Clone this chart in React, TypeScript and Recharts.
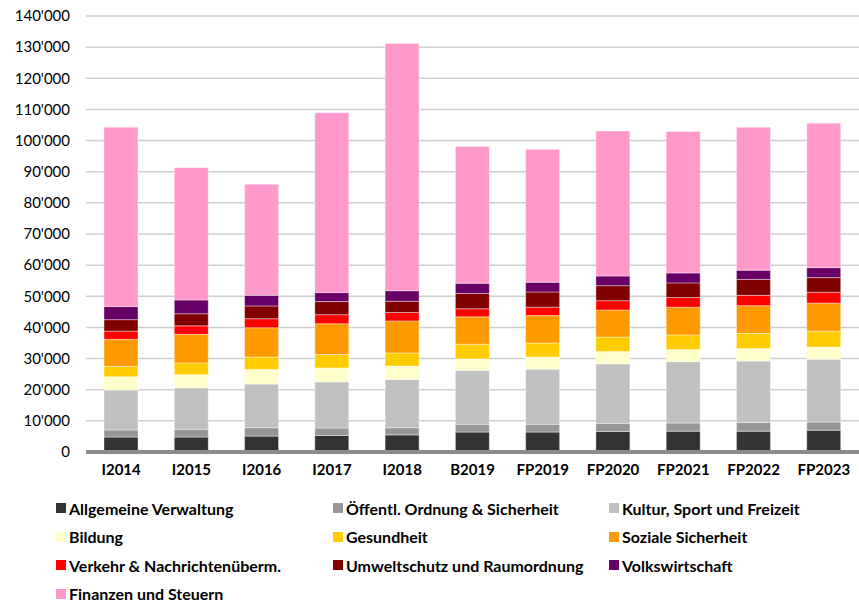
import React from 'react';
import { BarChart, Bar, XAxis, YAxis, CartesianGrid } from 'recharts';

const years = ['I2014', 'I2015', 'I2016', 'I2017', 'I2018', 'B2019', 'FP2019', 'FP2020', 'FP2021', 'FP2022', 'FP2023'];

const verwaltung = [4800, 4800, 5100, 5300, 5500, 6400, 6400, 6600, 6700, 6700, 7000];
const ordnung = [2300, 2500, 2700, 2400, 2300, 2500, 2500, 2600, 2600, 2800, 2600];
const kultur = [12800, 13300, 14000, 14800, 15500, 17300, 17700, 19100, 19700, 19700, 20200];
const bildung = [4300, 4200, 4700, 4500, 4300, 3700, 3900, 4000, 3900, 4000, 3900];
const gesundheit = [3300, 3800, 4000, 4300, 4200, 4700, 4500, 4600, 4700, 4900, 5100];
const sozial = [8700, 9200, 9400, 9900, 10300, 8800, 8800, 8700, 8900, 8900, 9000];
const verkehr = [2600, 2700, 2900, 2900, 2700, 2600, 2700, 3000, 3100, 3300, 3500];
const umwelt = [3700, 3900, 4100, 4200, 3600, 4900, 4900, 4800, 4700, 5100, 4700];
const volkswirtschaft = [4200, 4400, 3400, 2900, 3400, 3300, 3100, 3100, 3200, 3000, 3200];
const finanzen = [57600, 42500, 35700, 57700, 79400, 43900, 42700, 46600, 45400, 45900, 46400];

const yTicks = [0, 10000, 20000, 30000, 40000, 50000, 60000, 70000, 80000, 90000, 100000, 110000, 120000, 130000, 140000];

const series = [
  { key: 'verwaltung', name: 'Allgemeine Verwaltung', color: '#333333', values: verwaltung },
  { key: 'ordnung', name: 'Öffentl. Ordnung & Sicherheit', color: '#969696', values: ordnung },
  { key: 'kultur', name: 'Kultur, Sport und Freizeit', color: '#c0c0c0', values: kultur },
  { key: 'bildung', name: 'Bildung', color: '#ffffcc', values: bildung },
  { key: 'gesundheit', name: 'Gesundheit', color: '#ffcc00', values: gesundheit },
  { key: 'sozial', name: 'Soziale Sicherheit', color: '#ff9900', values: sozial },
  { key: 'verkehr', name: 'Verkehr & Nachrichtenüberm.', color: '#ff0000', values: verkehr },
  { key: 'umwelt', name: 'Umweltschutz und Raumordnung', color: '#800000', values: umwelt },
  { key: 'volkswirtschaft', name: 'Volkswirtschaft', color: '#660066', values: volkswirtschaft },
  { key: 'finanzen', name: 'Finanzen und Steuern', color: '#ff99cc', values: finanzen },
];

const data = years.map((year, i) => {
  const row: Record<string, string | number> = { year };
  series.forEach((s) => {
    row[s.key] = s.values[i];
  });
  return row;
});

const fmt = (v: number) => String(v).replace(/\B(?=(\d{3})+(?!\d))/g, "'");

const FONT = 'Lato, "Open Sans", sans-serif';

export default function App() {
  return (
    <div style={{ position: 'absolute', left: 0, top: 0, width: 859, height: 603, background: '#fff', fontFamily: FONT }}>
      <BarChart width={859} height={603} data={data} margin={{ top: 16, right: 0, left: 0, bottom: 121 }} barSize={34}>
        <CartesianGrid vertical={false} stroke="#cfcfcf" strokeWidth={1.5} />
        <XAxis
          dataKey="year"
          axisLine={{ stroke: '#8c8c8c', strokeWidth: 4 }}
          tickLine={false}
          tickSize={0}
          tickMargin={12}
          height={30}
          interval={0}
          tick={{ fill: '#000', fontSize: 15, fontWeight: 700, fontFamily: FONT }}
        />
        <YAxis
          width={86}
          domain={[0, 140000]}
          ticks={yTicks}
          tickFormatter={fmt}
          axisLine={false}
          tickLine={false}
          tickSize={6}
          tickMargin={10}
          interval={0}
          tick={{ fill: '#000', fontSize: 15, fontFamily: FONT }}
        />
        {series.map((s) => (
          <Bar
            key={s.key}
            dataKey={s.key}
            name={s.name}
            stackId="a"
            fill={s.color}
            stroke="#ffffff"
            strokeOpacity={0.4}
            strokeWidth={1}
            isAnimationActive={false}
          />
        ))}
      </BarChart>
      <div
        style={{
          position: 'absolute',
          left: 56,
          top: 497,
          width: 800,
          display: 'grid',
          gridTemplateColumns: '277px 276px 240px',
          rowGap: 6.5,
          fontSize: 16,
          fontWeight: 700,
          color: '#000',
        }}
      >
        {series.map((s) => (
          <div key={s.key} style={{ display: 'flex', alignItems: 'center', height: 22, whiteSpace: 'nowrap' }}>
            <span style={{ display: 'inline-block', width: 10, height: 10, background: s.color, marginRight: 3 }} />
            {s.name}
          </div>
        ))}
      </div>
    </div>
  );
}
